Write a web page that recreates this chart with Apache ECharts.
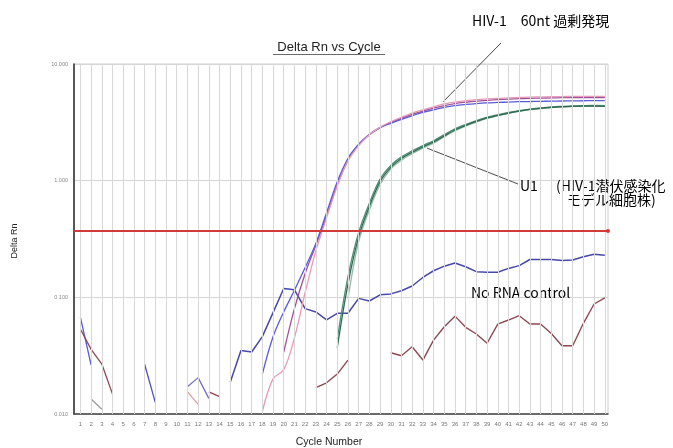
<!DOCTYPE html>
<html>
<head>
<meta charset="utf-8">
<script src="https://cdn.jsdelivr.net/npm/echarts@6/dist/echarts.min.js"></script>
<style>html,body{margin:0;padding:0;background:#fff}#c{width:673px;height:448px}</style>
</head>
<body>
<div id="c"></div>
<script>
// ---- data ----
const cycles = Array.from({length: 50}, (_, i) => i + 1);
const yTicks = [0.01, 0.1, 1, 10];

// HIV-1 60nt amplification curves
const hivBlueStart = 18;
const hivBlue = [0.022, 0.046, 0.075, 0.115, 0.18, 0.29, 0.53, 0.98, 1.55, 2.05, 2.5, 2.85, 3.1, 3.35, 3.6, 3.85, 4.05, 4.25, 4.4, 4.5, 4.58, 4.64, 4.68, 4.72, 4.75, 4.77, 4.79, 4.8, 4.82, 4.83, 4.84, 4.85, 4.85];
const hivPinkStart = 18;
const hivPink = [0.0105, 0.02, 0.024, 0.045, 0.11, 0.25, 0.48, 0.9, 1.48, 2.0, 2.48, 2.88, 3.2, 3.5, 3.8, 4.05, 4.3, 4.55, 4.72, 4.85, 4.95, 5.02, 5.08, 5.12, 5.16, 5.2, 5.22, 5.24, 5.26, 5.27, 5.28, 5.28, 5.28];
const hivVioletStart = 20;
const hivViolet = [0.034, 0.08, 0.16, 0.28, 0.5, 0.92, 1.5, 2.02, 2.47, 2.85, 3.15, 3.42, 3.7, 3.95, 4.18, 4.4, 4.58, 4.7, 4.8, 4.88, 4.95, 5.0, 5.04, 5.08, 5.1, 5.12, 5.14, 5.15, 5.16, 5.16, 5.16];

// U1 amplification curves
const u1DarkStart = 25;
const u1Dark = [0.037, 0.13, 0.33, 0.6, 0.98, 1.3, 1.55, 1.75, 1.95, 2.15, 2.42, 2.72, 2.98, 3.22, 3.45, 3.62, 3.8, 3.95, 4.08, 4.17, 4.25, 4.3, 4.34, 4.36, 4.36, 4.34];
const u1MidStart = 25;
const u1Mid = [0.044, 0.15, 0.36, 0.64, 1.03, 1.35, 1.6, 1.8, 2.0, 2.2, 2.48, 2.78, 3.03, 3.27, 3.5, 3.67, 3.84, 3.98, 4.1, 4.2, 4.28, 4.33, 4.37, 4.4, 4.41, 4.4];
const u1LightStart = 26;
const u1Light = [0.098, 0.3, 0.56, 0.93, 1.26, 1.5, 1.7, 1.9, 2.1, 2.38, 2.68, 2.94, 3.18, 3.42, 3.6, 3.78, 3.93, 4.06, 4.15, 4.23, 4.29, 4.33, 4.35, 4.36, 4.35];

// No RNA control
const ctrlBlueStart = 15;
const ctrlBlue = [0.0187, 0.035, 0.034, 0.046, 0.074, 0.119, 0.116, 0.08, 0.075, 0.064, 0.073, 0.073, 0.098, 0.093, 0.105, 0.107, 0.114, 0.125, 0.148, 0.169, 0.185, 0.197, 0.183, 0.166, 0.164, 0.164, 0.177, 0.187, 0.211, 0.211, 0.211, 0.207, 0.209, 0.223, 0.234, 0.23];
const ctrlBrownStart = 23;
const ctrlBrown = [0.0168, 0.0185, 0.022, 0.029, null, null, null, 0.0335, 0.0316, 0.0377, 0.029, 0.043, 0.056, 0.069, 0.0553, 0.0485, 0.0404, 0.059, 0.0639, 0.0696, 0.059, 0.059, 0.049, 0.0385, 0.0385, 0.0599, 0.0877, 0.099];

// low-level fragments
const fragBlue1Start = 1;  const fragBlue1 = [0.0674, 0.0263];
const fragBrown1Start = 1; const fragBrown1 = [0.0532, 0.0358, 0.0268, 0.0148];
const fragGrayStart = 2;   const fragGray = [0.01345, 0.011];
const fragBlue2Start = 7;  const fragBlue2 = [0.0267, 0.0125];
const fragBlue3Start = 11; const fragBlue3 = [0.0171, 0.0205, 0.0136];
const fragPinkStart = 11;  const fragPink = [0.0155, 0.0121];
const fragBrown2Start = 13; const fragBrown2 = [0.0155, 0.0141];

const threshold = 0.37;

// ---- chart ----
function toData(start, arr) { return arr.map((v, i) => [start + i, v]); }
function line(name, start, arr, color, width, smooth) {
  return {
    name, type: 'line', data: toData(start, arr), showSymbol: false, symbol: 'none',
    connectNulls: false, z: 3, silent: true, smooth: smooth || false,
    lineStyle: {color, width: width || 1.3}
  };
}

const option = {
  animation: false,
  backgroundColor: '#fff',
  grid: {left: 74, right: 65, top: 64, bottom: 34, show: true, borderColor: '#cfcfcf', borderWidth: 1},
  xAxis: {
    type: 'value', min: 0.4, max: 50.3,
    axisLine: {show: true, lineStyle: {color: '#444', width: 1.5}},
    axisTick: {show: false},
    splitLine: {show: false},
    axisLabel: {customValues: cycles, fontSize: 6, color: '#777', margin: 7, fontFamily: 'Liberation Sans'}
  },
  yAxis: {
    type: 'log', logBase: 10, min: 0.01, max: 10,
    axisLine: {show: true, lineStyle: {color: '#333', width: 1.6}},
    axisTick: {show: false},
    splitLine: {show: true, lineStyle: {color: '#d6d6d6', width: 1}},
    axisLabel: {fontSize: 5.5, color: '#888', margin: 6, fontFamily: 'Liberation Sans',
      formatter: v => Number(v).toFixed(3)}
  },
  series: [
    {
      name: 'grid', type: 'line', data: [], z: 1, silent: true,
      markLine: {silent: true, symbol: ['none', 'none'], label: {show: false},
        lineStyle: {color: '#d8d8d8', width: 1, type: 'solid'},
        data: cycles.map(c => ({xAxis: c}))}
    },
    {
      name: 'threshold', type: 'line', data: [], z: 4, silent: true,
      markLine: {silent: true, symbol: ['none', 'circle'], symbolSize: 4, label: {show: false},
        lineStyle: {color: '#d23a3a', width: 2, type: 'solid'},
        data: [{yAxis: threshold}]}
    },
    line('fragBlue1', fragBlue1Start, fragBlue1, '#5b5bd6'),
    line('fragBrown1', fragBrown1Start, fragBrown1, '#8b4a52'),
    line('fragGray', fragGrayStart, fragGray, '#9a9a9a'),
    line('fragBlue2', fragBlue2Start, fragBlue2, '#5050c0'),
    line('fragBlue3', fragBlue3Start, fragBlue3, '#7070c8'),
    line('fragPink', fragPinkStart, fragPink, '#e4a0a8'),
    line('fragBrown2', fragBrown2Start, fragBrown2, '#8b4a52'),
    line('ctrlBrown', ctrlBrownStart, ctrlBrown, '#8b4a52', 1.4),
    line('ctrlBlue', ctrlBlueStart, ctrlBlue, '#4848a8', 1.5),
    line('u1Light', u1LightStart, u1Light, '#96b8a8', 1.3, 0.35),
    line('u1Mid', u1MidStart, u1Mid, '#4f8f7a', 1.3, 0.35),
    line('u1Dark', u1DarkStart, u1Dark, '#2f6b50', 1.3, 0.35),
    line('hivViolet', hivVioletStart, hivViolet, '#a0509a', 1.3, 0.35),
    line('hivBlue', hivBlueStart, hivBlue, '#5b5bd6', 1.3, 0.35),
    line('hivPink', hivPinkStart, hivPink, '#e49ab8', 1.3, 0.35)
  ]
};

const chart = echarts.init(document.getElementById('c'), null, {renderer: 'canvas'});
chart.setOption(option);

const pHiv = chart.convertToPixel({gridIndex: 0}, [34.9, 4.75]);
const pU1 = chart.convertToPixel({gridIndex: 0}, [33.4, 1.9]);
const jp = '"Noto Sans CJK JP", "Noto Sans", sans-serif';

chart.setOption({
  graphic: [
    {type: 'text', x: 329, y: 47, style: {text: 'Delta Rn vs Cycle', fill: '#222', font: '13px "Liberation Sans", Arial, sans-serif', textAlign: 'center', textVerticalAlign: 'middle'}},
    {type: 'line', shape: {x1: 273, y1: 54.5, x2: 385, y2: 54.5}, style: {stroke: '#444', lineWidth: 0.8}},
    {type: 'text', x: 15, y: 241, rotation: Math.PI / 2, style: {text: 'Delta Rn', fill: '#222', font: '9px "Liberation Sans", Arial, sans-serif', textAlign: 'center', textVerticalAlign: 'middle'}},
    {type: 'text', x: 329, y: 442, style: {text: 'Cycle Number', fill: '#222', font: '10.5px "Liberation Sans", Arial, sans-serif', textAlign: 'center', textVerticalAlign: 'middle'}},
    {type: 'text', x: 472, y: 21, style: {text: 'HIV-1\u300060nt 過剰発現', fill: '#000', font: '14px ' + jp, textAlign: 'left', textVerticalAlign: 'middle'}},
    {type: 'line', shape: {x1: 501, y1: 43, x2: pHiv[0], y2: pHiv[1]}, style: {stroke: '#333', lineWidth: 0.9}},
    {type: 'text', x: 520, y: 186, style: {text: 'U1', fill: '#000', font: '14px ' + jp, textAlign: 'left', textVerticalAlign: 'middle'}},
    {type: 'text', x: 556, y: 186, style: {text: '(HIV-1潜伏感染化', fill: '#000', font: '14px ' + jp, textAlign: 'left', textVerticalAlign: 'middle'}},
    {type: 'text', x: 567, y: 200, style: {text: 'モデル細胞株)', fill: '#000', font: '14px ' + jp, textAlign: 'left', textVerticalAlign: 'middle'}},
    {type: 'line', shape: {x1: 518, y1: 184, x2: pU1[0], y2: pU1[1]}, style: {stroke: '#333', lineWidth: 0.9}},
    {type: 'text', x: 471, y: 293, style: {text: 'No RNA control', fill: '#000', font: '14px ' + jp, textAlign: 'left', textVerticalAlign: 'middle'}}
  ]
});
</script>
</body>
</html>
